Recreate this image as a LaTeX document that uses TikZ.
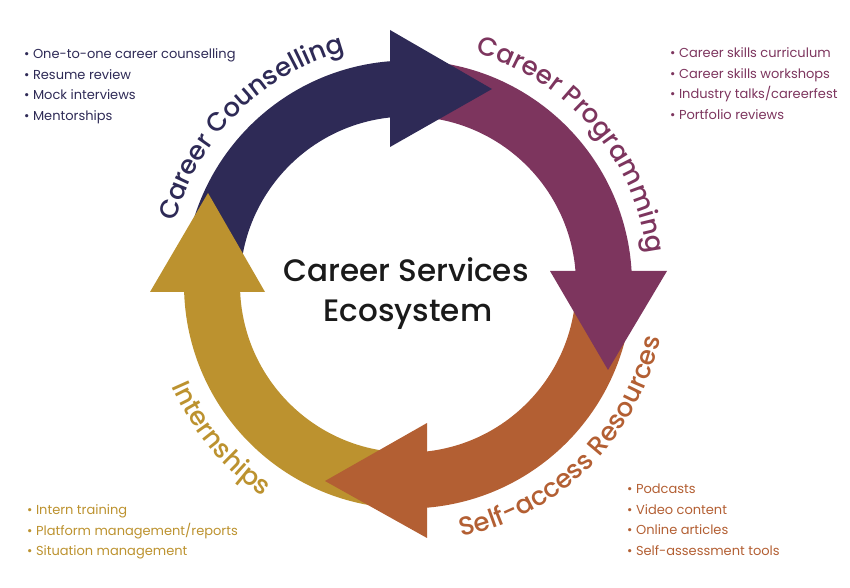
\documentclass[tikz,border=0pt]{standalone}
\usepackage{fontspec}
\setmainfont{Poppins}
\newfontfamily\medfont{Poppins Medium}
\usetikzlibrary{positioning}
\usetikzlibrary{decorations.text}
\definecolor{navy}{HTML}{2E2A56}
\definecolor{plum}{HTML}{7D355E}
\definecolor{rust}{HTML}{B35F33}
\definecolor{gold}{HTML}{BC922F}
\definecolor{ink}{HTML}{1A1A1A}

\begin{document}
\begin{tikzpicture}
    [
    x=1pt, y=1pt,
    item/.style={inner sep=0pt, text height=10pt, text depth=3pt, font=\fontsize{13}{16}\selectfont},
    next/.style={below=7pt of #1.south west, anchor=north west},
    title/.style={inner sep=0pt, anchor=base, text=ink, font=\medfont\fontsize{31}{40}\selectfont},
    arclabel/.style={decorate, decoration={text along path, text align=center,
        text={|\medfont\fontsize{26}{26}\selectfont|#1}}},
    ]
    \useasboundingbox (0,0) rectangle (850,588);
    \coordinate (c) at (408,303.5);

    % ring pieces
    \begin{scope}[shift={(c)}]
    \fill [navy] (180:168) arc [start angle=180, end angle=94, radius=168]
        -- (94:224) arc [start angle=94, end angle=180, radius=224] -- cycle;
    \fill [plum] (90:168) arc [start angle=90, end angle=2, radius=168]
        -- (2:224) arc [start angle=2, end angle=90, radius=224] -- cycle;
    \fill [rust] (0:168) arc [start angle=0, end angle=-86, radius=168]
        -- (-86:224) arc [start angle=-86, end angle=0, radius=224] -- cycle;
    \fill [gold] (270:168) arc [start angle=270, end angle=181, radius=168]
        -- (181:224) arc [start angle=181, end angle=270, radius=224] -- cycle;
    \end{scope}

    % arrow heads
    \fill [navy] (390,558) -- (492,499) -- (390,441) -- cycle;
    \fill [plum] (550,317) -- (608,218) -- (667,317) -- cycle;
    \fill [rust] (427,165) -- (325,107) -- (427,50) -- cycle;
    \fill [gold] (150,296) -- (208,395) -- (265,296) -- cycle;

    % labels round the ring
    \begin{scope}[shift={(c)}]
    \path [arclabel=Career Counselling, decoration={text color=navy}]
        (175:241) arc [start angle=175, end angle=95, radius=241];
    \path [arclabel=Career Programming, decoration={text color=plum}]
        (81:241) arc [start angle=81, end angle=0, radius=241];
    \path [arclabel=Self-access Resources, decoration={text color=rust}]
        (-91:258) arc [start angle=-91, end angle=1, radius=258];
    \path [arclabel=Internships, decoration={text color=gold}]
        (180:257) arc [start angle=180, end angle=259, radius=257];
    \end{scope}

    \node (eco1) at (406,306) [title] {Career Services};
    \node (eco2) at (408,266) [title] {Ecosystem};

    % counselling list
    \node (cc1) at (24,529) [item, anchor=base west, text=navy] {• One-to-one career counselling};
    \node (cc2) [item, next=cc1, text=navy] {• Resume review};
    \node (cc3) [item, next=cc2, text=navy] {• Mock interviews};
    \node (cc4) [item, next=cc3, text=navy] {• Mentorships};

    % programming list
    \node (cp1) at (670,530) [item, anchor=base west, text=plum] {• Career skills curriculum};
    \node (cp2) [item, next=cp1, text=plum] {• Career skills workshops};
    \node (cp3) [item, next=cp2, text=plum] {• Industry talks/careerfest};
    \node (cp4) [item, next=cp3, text=plum] {• Portfolio reviews};

    % resources list
    \node (sr1) at (627,94) [item, anchor=base west, text=rust] {• Podcasts};
    \node (sr2) [item, next=sr1, text=rust] {• Video content};
    \node (sr3) [item, next=sr2, text=rust] {• Online articles};
    \node (sr4) [item, next=sr3, text=rust] {• Self-assessment tools};

    % internships list
    \node (in1) at (27,73) [item, anchor=base west, text=gold] {• Intern training};
    \node (in2) [item, next=in1, text=gold] {• Platform management/reports};
    \node (in3) [item, next=in2, text=gold] {• Situation management};
\end{tikzpicture}
\end{document}
